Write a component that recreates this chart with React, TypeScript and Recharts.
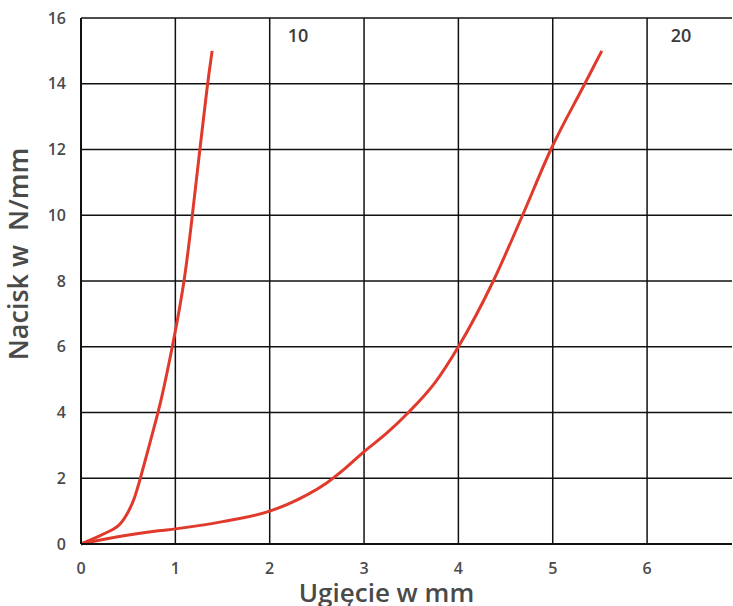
import React from 'react';
import { LineChart, Line, XAxis, YAxis, CartesianGrid, ReferenceDot, Label } from 'recharts';

const series10X = [0, 0.2, 0.35, 0.42, 0.5, 0.57, 0.63, 0.7, 0.77, 0.85, 0.97, 1.1, 1.18, 1.26, 1.34, 1.39];
const series10Y = [0, 0.25, 0.45, 0.6, 0.95, 1.4, 2.0, 2.75, 3.5, 4.35, 6.0, 8.0, 10.0, 12.0, 14.0, 15.0];
const series20X = [0, 0.15, 0.39, 0.82, 1.0, 1.5, 2.0, 2.2, 2.4, 2.6, 2.8, 3.0, 3.24, 3.47, 3.75, 4.0, 4.37, 4.68, 4.98, 5.34, 5.52];
const series20Y = [0, 0.09, 0.22, 0.4, 0.46, 0.68, 1.0, 1.22, 1.5, 1.85, 2.3, 2.81, 3.37, 4.0, 4.9, 6.0, 8.0, 10.0, 12.0, 14.0, 15.0];
const xTicks = [0, 1, 2, 3, 4, 5, 6];
const yTicks = [0, 2, 4, 6, 8, 10, 12, 14, 16];
const curveLabels = ['10', '20'];
const labelX = [2.3, 6.36];
const labelY = [15.45, 15.45];

const data10 = series10X.map((x, i) => ({ x, y: series10Y[i] }));
const data20 = series20X.map((x, i) => ({ x, y: series20Y[i] }));

const FONT = '"Open Sans", sans-serif';
const TEXT = '#4a4a4a';
const RED = '#e03a2c';

export default function App() {
  return (
    <div style={{ position: 'absolute', left: 0, top: 0, background: '#fff' }}>
      <LineChart
        width={733}
        height={606}
        margin={{ top: 18, right: 1, bottom: 0, left: 0 }}
      >
        <CartesianGrid stroke="#111" strokeWidth={1.5} horizontalValues={yTicks} verticalValues={xTicks} />
        <XAxis
          type="number"
          dataKey="x"
          domain={[0, 6.9]}
          ticks={xTicks}
          allowDataOverflow
          axisLine={{ stroke: '#111', strokeWidth: 2 }}
          tickLine={false}
          tickSize={0}
          tickMargin={19}
          tick={{ fill: TEXT, fontFamily: FONT, fontSize: 16, fontWeight: 600 }}
          height={62}
        >
          <Label
            value="Ugięcie w mm"
            position="insideBottom"
            offset={4}
            dx={-20}
            style={{ fill: TEXT, fontFamily: FONT, fontSize: 26, fontWeight: 600 }}
          />
        </XAxis>
        <YAxis
          type="number"
          dataKey="y"
          domain={[0, 16]}
          ticks={yTicks}
          axisLine={{ stroke: '#111', strokeWidth: 2 }}
          tickLine={false}
          tickSize={0}
          tickMargin={15}
          tick={{ fill: TEXT, fontFamily: FONT, fontSize: 16, fontWeight: 600 }}
          width={81}
        >
          <Label
            value={'Nacisk w\u00A0\u00A0N/mm'}
            angle={-90}
            position="insideLeft"
            offset={0}
            dx={18}
            dy={-27}
            style={{ fill: TEXT, fontFamily: FONT, fontSize: 27, fontWeight: 600, textAnchor: 'middle' }}
          />
        </YAxis>
        <Line
          data={data10}
          dataKey="y"
          type="basis"
          stroke={RED}
          strokeWidth={3}
          dot={false}
          isAnimationActive={false}
        />
        <Line
          data={data20}
          dataKey="y"
          type="monotoneX"
          stroke={RED}
          strokeWidth={3}
          dot={false}
          isAnimationActive={false}
        />
        {curveLabels.map((t, i) => (
          <ReferenceDot
            key={t}
            x={labelX[i]}
            y={labelY[i]}
            r={0}
            fill="none"
            stroke="none"
            label={{ value: t, position: 'center', fill: '#3a3a3a', fontFamily: FONT, fontSize: 18, fontWeight: 600 }}
          />
        ))}
      </LineChart>
    </div>
  );
}
